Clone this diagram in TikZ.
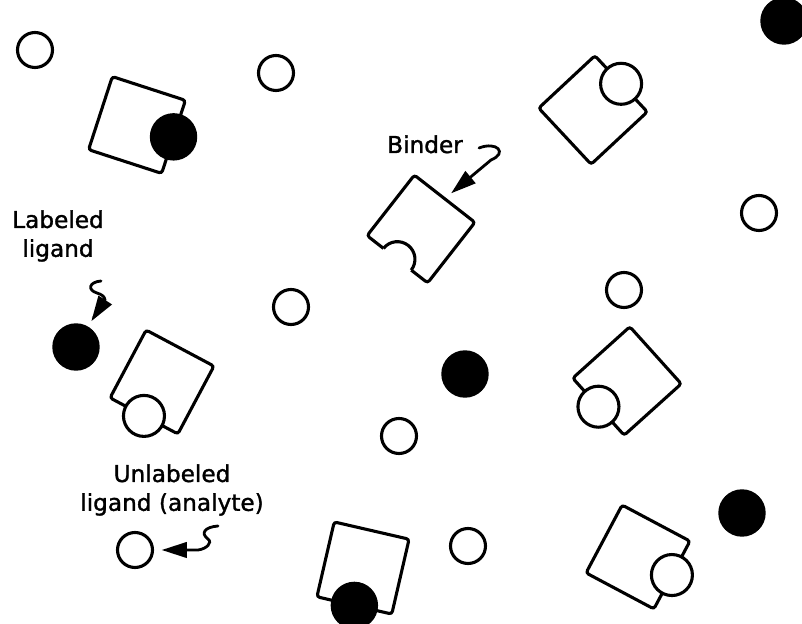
\documentclass[tikz,border=0pt]{standalone}
\usepackage{fontspec}
\setmainfont{DejaVu Sans}
\newfontfamily\tagfont[FakeBold=1.4]{DejaVu Sans}
\usetikzlibrary{arrows.meta}

\begin{document}
\begin{tikzpicture}[
  x=0.025cm,y=0.025cm,
  binder/.style={draw,line width=2.2pt,rectangle,rounded corners=2pt,minimum size=1.92cm,inner sep=0pt,outer sep=0pt,fill=white},
  free/.style={draw,circle,line width=2.2pt,minimum size=.875cm,inner sep=0pt,outer sep=0pt,fill=white},
  bound/.style={free,minimum size=1.025cm},
  labeled/.style={draw,circle,fill=black,line width=1pt,minimum size=1.15cm,inner sep=0pt,outer sep=0pt},
  tag/.style={font=\tagfont\fontsize{16.5pt}{20.5pt}\selectfont,align=center,inner sep=0pt},
  pointer/.style={line width=2pt,line cap=round,-{Triangle[length=18pt,width=11pt]}}
]
  \useasboundingbox (0,0) rectangle (802,624);
  \clip (0,0) rectangle (802,624);

  % binders
  \node[binder,rotate=-18] (bdA) at (137,499) {};
  \node[binder,rotate=43] (bdB) at (593,514) {};
  \node[binder,rotate=-128] (bdC) at (421,395) {};
  \node[binder,rotate=-118] (bdD) at (162,242) {};
  \node[binder,rotate=-138] (bdE) at (627,243) {};
  \node[binder,rotate=-103] (bdF) at (363,56) {};
  \node[binder,rotate=-28] (bdG) at (638,67) {};

  % empty site of the free binder
  \fill[white] (bdC.east) circle (.44cm);
  \draw[line width=2.2pt] ([shift={(-38:.44cm)}]bdC.east) arc[start angle=-38,end angle=142,radius=.44cm];

  % bound ligands
  \node[labeled] (bA) at (bdA.east) {};
  \node[bound] (bB) at (bdB.east) {};
  \node[bound] (bD) at (bdD.east) {};
  \node[bound] (bE) at (bdE.east) {};
  \node[labeled] (bF) at (bdF.east) {};
  \node[bound] (bG) at (bdG.east) {};

  % free ligands
  \node[free] (u1) at (35,574) {};
  \node[free] (u2) at (276,551) {};
  \node[free] (u3) at (759,411) {};
  \node[free] (u4) at (291,317) {};
  \node[free] (u5) at (624,334) {};
  \node[free] (u6) at (399,188) {};
  \node[free] (u7) at (135,74) {};
  \node[free] (u8) at (468,78) {};
  \node[labeled] (f1) at (784,603) {};
  \node[labeled] (f2) at (76,277) {};
  \node[labeled] (f3) at (465,250) {};
  \node[labeled] (f4) at (742,111) {};

  % labels
  \node[tag,anchor=base] (tbinder) at (425,471) {Binder};
  \node[tag] (tlabeled) at (58,388) {Labeled\\ligand};
  \node[tag] (tunlabeled) at (172,134) {Unlabeled\\ligand (analyte)};

  \coordinate (cbinder) at (479,476);
  \coordinate (clabeled) at (101,343);
  \coordinate (cunlabeled) at (218,98);

  \draw[pointer,shorten >=6pt] (cbinder) .. controls (497,483) and (508,471) .. (491,464) -- (bdC.west);
  \draw[pointer,shorten >=5pt] (clabeled) .. controls (89,342) and (87,334) .. (97,331)
    .. controls (107,328) and (107,322) .. (100,316) -- (f2.60);
  \draw[pointer,shorten >=6.5pt] (cunlabeled) .. controls (205,97) and (200,91) .. (208,85)
    .. controls (213,81) and (206,75) .. (198,74) -- (u7.east);
\end{tikzpicture}
\end{document}
